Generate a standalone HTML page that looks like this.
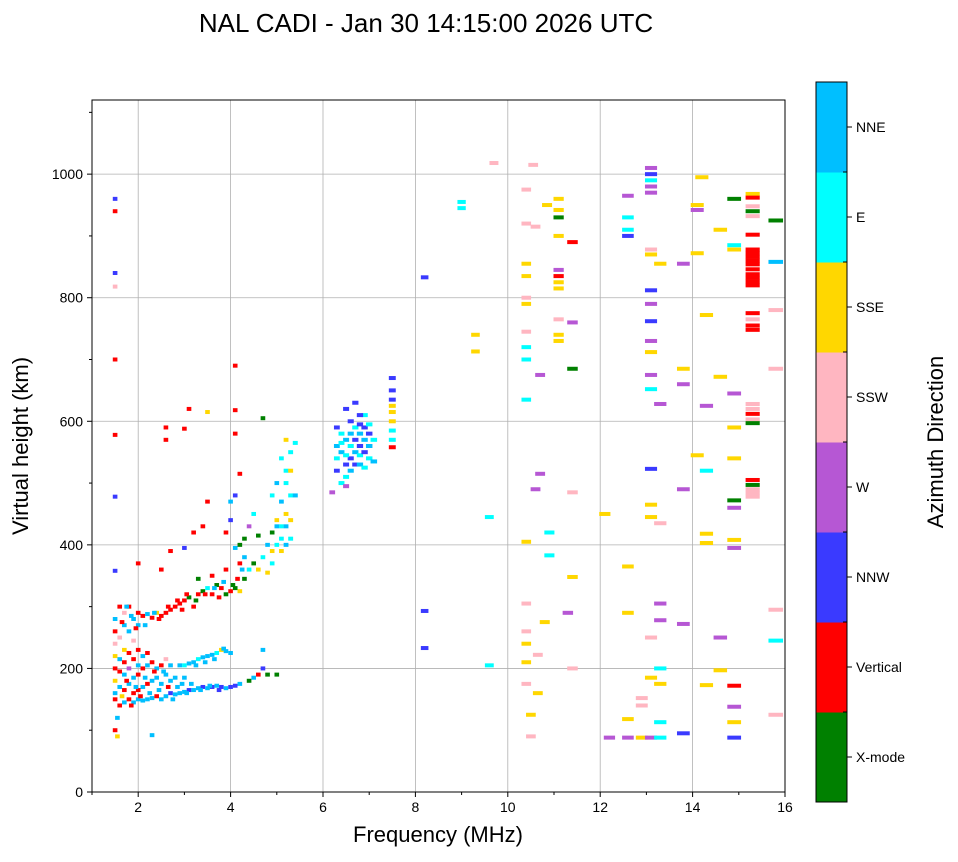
<!DOCTYPE html>
<html><head><meta charset="utf-8">
<style>
body{margin:0;background:#fff;}
svg text{font-family:"Liberation Sans","DejaVu Sans",sans-serif;}
</style></head>
<body>
<svg id="chart" width="958" height="857" viewBox="0 0 958 857" xmlns="http://www.w3.org/2000/svg">
<text x="426" y="32" font-size="26" text-anchor="middle">NAL CADI - Jan 30 14:15:00 2026 UTC</text>
<g id="grid"></g>
<g id="marks"></g>
<rect x="92" y="100" width="693" height="692" fill="none" stroke="#000" stroke-width="1"/>
<g id="axes"></g>
<text x="438" y="842" font-size="22" text-anchor="middle">Frequency (MHz)</text>
<text x="0" y="0" font-size="22" text-anchor="middle" transform="translate(28,446) rotate(-90)">Virtual height (km)</text>
<g id="cbar"></g>
<text x="0" y="0" font-size="22" text-anchor="middle" transform="translate(943,442) rotate(-90)">Azimuth Direction</text>
</svg>
<script>
const directions = ["X-mode","Vertical","NNW","W","SSW","SSE","E","NNE"];
const dirColors = ["#008000","#ff0000","#3a3aff","#b657d4","#ffb6c1","#ffd700","#00ffff","#00bfff"];
const xTicks = [2,4,6,8,10,12,14,16];
const yTicks = [0,200,400,600,800,1000];
const points = [
[1.5,960,2],[1.5,940,1],[1.5,840,2],[1.5,818,4],[1.5,700,1],[1.5,578,1],[1.5,478,2],[1.5,358,2],
[1.5,150,1],[1.5,160,7],[1.5,180,5],[1.5,200,1],[1.5,220,5],[1.5,240,4],[1.5,260,1],[1.5,280,7],[1.5,100,1],[1.55,90,5],
[1.6,140,1],[1.6,170,7],[1.6,195,1],[1.6,215,7],[1.6,250,4],[1.6,300,1],[1.7,145,7],[1.7,165,1],[1.7,190,7],[1.7,210,1],[1.7,230,5],[1.7,270,7],[1.7,290,4],
[1.8,150,1],[1.8,175,7],[1.8,200,3],[1.8,225,1],[1.8,260,7],[1.8,300,1],[1.9,145,7],[1.9,160,1],[1.9,185,7],[1.9,215,1],[1.9,245,4],[1.9,280,7],
[2.0,150,7],[2.0,165,1],[2.0,190,1],[2.0,205,7],[2.0,230,1],[2.0,270,7],[2.0,290,1],[2.1,148,7],[2.1,170,7],[2.1,200,1],[2.1,220,7],[2.1,285,1],
[2.2,150,7],[2.2,175,1],[2.2,205,7],[2.2,225,1],[2.2,288,7],[2.3,152,7],[2.3,180,7],[2.3,210,1],[2.3,92,7],[2.3,282,1],
[2.4,155,1],[2.4,185,7],[2.4,200,7],[2.4,290,5],[2.5,150,7],[2.5,175,7],[2.5,205,1],[2.5,285,1],[2.6,155,7],[2.6,190,7],[2.6,215,4],[2.6,290,1],
[2.7,160,2],[2.7,180,7],[2.7,205,7],[2.7,295,1],[2.8,158,7],[2.8,185,7],[2.8,300,1],[2.9,160,7],[2.9,205,7],[2.9,305,1],
[3.0,162,7],[3.0,185,7],[3.0,205,6],[3.0,310,1],[3.1,165,2],[3.1,208,7],[3.1,315,0],[3.2,165,7],[3.2,210,7],[3.2,300,1],
[3.3,168,7],[3.3,215,6],[3.3,320,1],[3.4,170,2],[3.4,218,7],[3.4,325,0],[3.5,168,7],[3.5,220,7],[3.5,330,6],[3.6,170,2],[3.6,222,7],[3.6,320,1],
[3.7,172,7],[3.7,225,6],[3.7,335,0],[3.8,170,2],[3.8,230,5],[3.8,330,1],[3.9,168,7],[3.9,228,7],[3.9,320,0],[4.0,170,2],[4.0,225,7],[4.0,325,1],
[4.1,172,2],[4.1,330,0],[4.2,175,7],[4.2,325,5],[4.2,370,1],[4.3,345,0],[4.3,380,7],[4.4,180,0],[4.4,360,6],[4.5,185,7],[4.5,370,0],
[4.6,190,1],[4.6,360,5],[4.7,200,2],[4.7,230,7],[4.7,380,6],[4.8,190,0],[4.8,355,5],[4.8,400,7],[4.9,370,6],[4.9,420,0],[4.9,480,6],
[5.0,190,0],[5.0,400,6],[5.0,440,5],[5.0,500,7],[5.1,390,5],[5.1,430,6],[5.1,470,7],[5.1,540,6],[5.2,400,7],[5.2,450,5],[5.2,520,6],[5.2,570,5],
[5.3,410,6],[5.3,480,6],[5.3,550,6],[5.4,565,6],[5.4,480,7],
[1.55,120,7],[1.65,155,5],[1.75,180,1],[1.85,140,1],[1.95,170,7],[2.05,155,1],[2.15,185,7],[2.25,160,7],[2.35,195,1],[2.45,165,7],[2.55,195,7],[2.65,170,1],
[2.75,150,7],[2.85,170,7],[2.95,175,7],[3.05,160,7],[3.15,175,7],[3.25,205,7],[3.35,165,7],[3.45,210,7],[3.55,172,7],[3.65,215,7],[3.75,165,2],[3.85,232,7],
[1.65,275,1],[1.75,300,7],[1.85,285,7],[1.95,265,1],[2.15,270,7],[2.35,290,7],[2.45,280,1],[2.65,300,1],[2.85,310,1],[2.95,295,1],[3.05,320,1],[3.25,310,0],
[3.45,320,1],[3.65,330,7],[3.75,315,1],[3.85,340,7],[4.05,335,0],[4.15,345,1],[4.25,360,7],[3.3,345,0],[3.6,350,1],[3.9,360,1],[4.1,395,7],[4.3,410,0],
[5.0,430,7],[5.1,410,6],[5.2,430,7],[5.3,440,5],[4.9,390,5],[5.2,500,6],[5.3,520,5],
[2.0,370,1],[2.5,360,1],[2.7,390,1],[3.0,395,2],[3.2,420,1],[3.4,430,1],[3.5,470,1],[3.9,420,1],[4.0,440,2],[4.0,470,7],[4.1,480,2],
[3.1,620,1],[4.1,618,1],[4.1,690,1],[4.7,605,0],[4.1,580,1],[3.5,615,5],[2.6,590,1],[2.6,570,1],[3.0,588,1],[4.2,515,1],[4.5,450,6],[4.4,430,3],[4.6,415,0],[4.2,400,0],
[6.3,590,2],[6.3,560,7],[6.3,540,6],[6.3,520,2],[6.4,550,7],[6.4,580,6],[6.4,500,6],[6.5,620,2],[6.5,570,7],[6.5,530,2],[6.5,510,6],
[6.6,600,2],[6.6,560,6],[6.6,540,2],[6.6,520,7],[6.7,630,2],[6.7,590,6],[6.7,570,2],[6.7,550,7],[6.7,530,2],[6.8,595,2],[6.8,580,7],[6.8,560,2],[6.8,545,6],[6.8,530,7],
[6.9,590,2],[6.9,570,7],[6.9,550,2],[6.9,610,6],[7.0,580,2],[7.0,560,7],[7.0,540,6],[7.1,570,6],[6.2,485,3],[6.5,495,3],[7.1,535,7],
[6.4,565,6],[6.6,580,7],[6.8,610,2],[7.0,595,6],[6.5,545,6],[6.9,525,6],
[7.5,670,2],[7.5,650,2],[7.5,635,2],[7.5,625,5],[7.5,615,5],[7.5,600,5],[7.5,585,6],[7.5,570,6],[7.5,558,1],
[8.2,833,2],[8.2,293,2],[8.2,233,2],[9.0,955,6],[9.0,945,6],[9.3,740,5],[9.3,713,5],[9.6,445,6],[9.6,205,6],[9.7,1018,4],
[10.4,975,4],[10.4,920,4],[10.4,855,5],[10.4,835,5],[10.4,800,4],[10.4,790,5],[10.4,745,4],[10.4,720,6],[10.4,700,6],[10.4,635,6],[10.4,405,5],[10.4,305,4],[10.4,260,4],[10.4,240,5],[10.4,210,5],[10.4,175,4],
[10.5,125,5],[10.5,90,4],[10.55,1015,4],[10.6,915,4],[10.7,675,3],[10.6,490,3],[10.7,515,3],[10.65,222,4],[10.65,160,5],[10.8,275,5],[10.9,420,6],[10.9,383,6],
[10.85,950,5],[11.1,960,5],[11.1,942,5],[11.1,930,0],[11.1,900,5],[11.1,845,3],[11.1,835,1],[11.1,825,5],[11.1,815,5],[11.1,765,4],[11.1,740,5],[11.1,730,5],
[11.3,290,3],[11.4,890,1],[11.4,760,3],[11.4,685,0],[11.4,485,4],[11.4,348,5],[11.4,200,4],
[12.1,450,5],[12.2,88,3],[12.6,965,3],[12.6,930,6],[12.6,910,6],[12.6,900,2],[12.6,365,5],[12.6,290,5],[12.6,118,5],[12.6,88,3],[12.9,152,4],[12.9,140,4],[12.9,88,5],
[13.1,1010,3],[13.1,1000,2],[13.1,990,6],[13.1,980,3],[13.1,970,3],[13.1,870,5],[13.1,878,4],[13.1,812,2],[13.1,790,3],[13.1,762,2],[13.1,730,3],[13.1,712,5],[13.1,675,3],[13.1,652,6],[13.1,523,2],[13.1,465,5],[13.1,445,5],[13.1,250,4],[13.1,185,5],[13.1,88,3],
[13.3,855,5],[13.3,628,3],[13.3,435,4],[13.3,305,3],[13.3,278,3],[13.3,200,6],[13.3,175,5],[13.3,113,6],[13.3,88,6],
[13.8,855,3],[13.8,685,5],[13.8,660,3],[13.8,490,3],[13.8,272,3],[13.8,95,2],[14.1,950,5],[14.1,942,3],[14.1,872,5],[14.1,545,5],[14.2,995,5],
[14.3,772,5],[14.3,625,3],[14.3,520,6],[14.3,418,5],[14.3,403,5],[14.3,173,5],[14.6,910,5],[14.6,672,5],[14.6,250,3],[14.6,197,5],
[14.9,960,0],[14.9,885,6],[14.9,878,5],[14.9,645,3],[14.9,590,5],[14.9,540,5],[14.9,472,0],[14.9,460,3],[14.9,408,5],[14.9,395,3],[14.9,172,1],[14.9,138,3],[14.9,113,5],[14.9,88,2],
[15.3,968,5],[15.3,962,1],[15.3,948,4],[15.3,940,0],[15.3,932,4],[15.3,902,1],[15.3,878,1],[15.3,872,1],[15.3,866,1],[15.3,860,1],[15.3,854,1],[15.3,846,1],[15.3,838,1],[15.3,832,1],[15.3,826,1],[15.3,820,1],
[15.3,775,1],[15.3,765,4],[15.3,755,1],[15.3,748,1],[15.3,628,4],[15.3,620,4],[15.3,612,1],[15.3,603,4],[15.3,597,0],[15.3,505,1],[15.3,497,0],[15.3,490,4],[15.3,484,4],[15.3,478,4],
[15.8,925,0],[15.8,858,7],[15.8,780,4],[15.8,685,4],[15.8,295,4],[15.8,245,6],[15.8,125,4]
];
const NS="http://www.w3.org/2000/svg";
const X0=92,X1=785,Y0=792,Y1=100,FMIN=1,FMAX=16,HMIN=0,HMAX=1120;
function xs(f){return X0+(f-FMIN)/(FMAX-FMIN)*(X1-X0);}
function ys(h){return Y0-(h-HMIN)/(HMAX-HMIN)*(Y0-Y1);}
function mk(tag,attrs,parent){const e=document.createElementNS(NS,tag);for(const k in attrs)e.setAttribute(k,attrs[k]);parent.appendChild(e);return e;}
const grid=document.getElementById('grid'),axes=document.getElementById('axes'),marks=document.getElementById('marks'),cbar=document.getElementById('cbar');
xTicks.forEach(t=>{const x=xs(t);
 if(t<FMAX){const g=mk('line',{x1:x,x2:x,y1:Y1,y2:Y0,stroke:'#b0b0b0','stroke-width':0.8},grid);
 
 }
 mk('line',{x1:x,x2:x,y1:Y0,y2:Y0+5,stroke:'#000'},axes);
 const l=mk('text',{x:x,y:Y0+20,'font-size':14,'text-anchor':'middle'},axes);l.textContent=t;
 
 });
for(let f=1;f<=16;f++){if(f%2)mk('line',{x1:xs(f),x2:xs(f),y1:Y0,y2:Y0+3,stroke:'#000'},axes);}
yTicks.forEach(t=>{const y=ys(t);
 if(t>0){const g=mk('line',{x1:X0,x2:X1,y1:y,y2:y,stroke:'#b0b0b0','stroke-width':0.8},grid);
 
 }
 mk('line',{x1:X0-5,x2:X0,y1:y,y2:y,stroke:'#000'},axes);
 const l=mk('text',{x:X0-9,y:y+5,'font-size':14,'text-anchor':'end'},axes);l.textContent=t;
 
 });
for(let h=100;h<=1100;h+=100){if(h%200)mk('line',{x1:X0-3,x2:X0,y1:ys(h),y2:ys(h),stroke:'#000'},axes);}
points.forEach(p=>{const w=Math.max(0.1,0.02*p[0])*(X1-X0)/(FMAX-FMIN);
 const r=mk('rect',{x:xs(p[0])-w/2,y:ys(p[1])-2,width:w,height:4,fill:dirColors[p[2]]},marks);
 
 });
const CX=816,CW=31,CT=82,CB=802,seg=(CB-CT)/directions.length;
directions.forEach((d,i)=>{const y=CB-(i+1)*seg;
 const r=mk('rect',{x:CX,y:y,width:CW,height:seg+0.5,fill:dirColors[i]},cbar);
 
 
 mk('line',{x1:CX+CW,x2:CX+CW+5,y1:y+seg/2,y2:y+seg/2,stroke:'#000'},cbar);
 const l=mk('text',{x:CX+CW+9,y:y+seg/2+5,'font-size':14},cbar);l.textContent=d;
 
 });
for(let i=0;i<=directions.length;i++){const y=CB-i*seg;mk('line',{x1:CX+CW-4,x2:CX+CW,y1:y,y2:y,stroke:'#000'},cbar);}
mk('rect',{x:CX,y:CT,width:CW,height:CB-CT,fill:'none',stroke:'#000'},cbar);
</script>
</body></html>
